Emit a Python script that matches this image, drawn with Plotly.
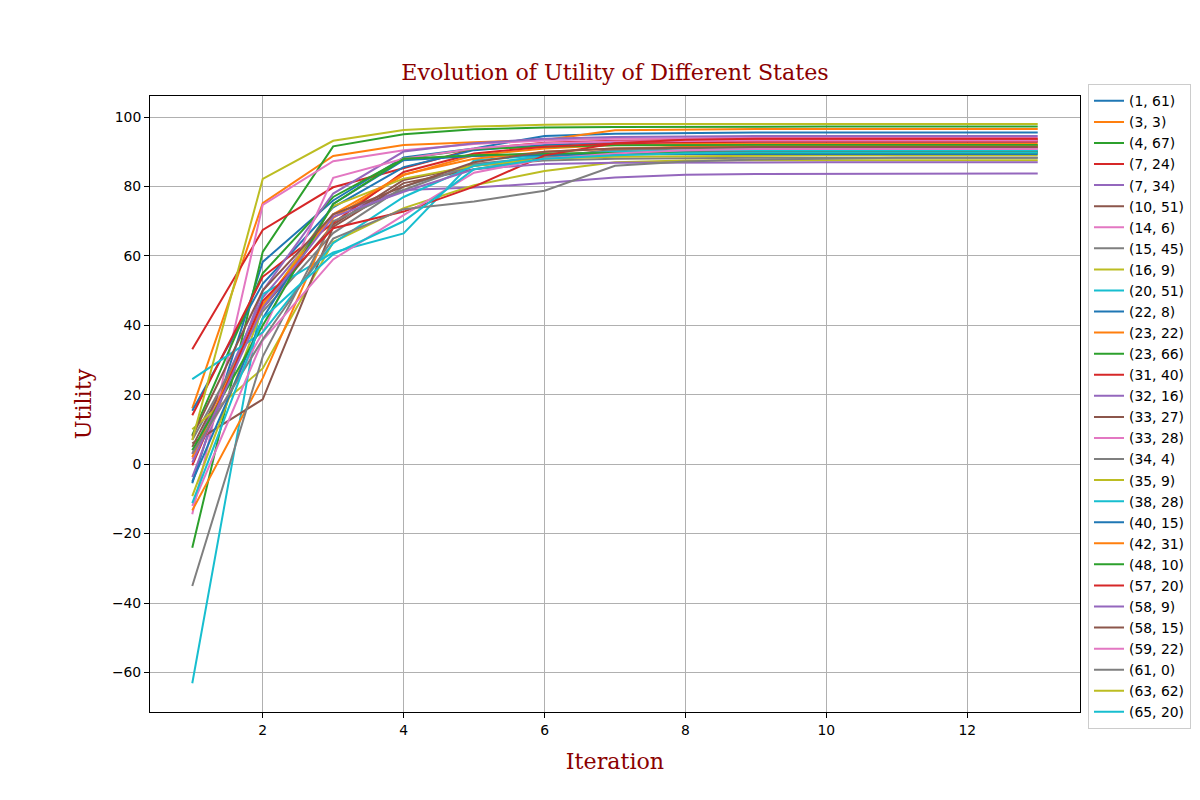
import plotly.graph_objects as go

iterations = list(range(1, 14))

states = [
    "(1, 61)", "(3, 3)", "(4, 67)", "(7, 24)", "(7, 34)", "(10, 51)", "(14, 6)",
    "(15, 45)", "(16, 9)", "(20, 51)", "(22, 8)", "(23, 22)", "(23, 66)", "(31, 40)",
    "(32, 16)", "(33, 27)", "(33, 28)", "(34, 4)", "(35, 9)", "(38, 28)", "(40, 15)",
    "(42, 31)", "(48, 10)", "(57, 20)", "(58, 9)", "(58, 15)", "(59, 22)", "(61, 0)",
    "(63, 62)", "(65, 20)",
]

u_1_61 = [-5.5, 58.3, 76.0, 88.4, 91.0, 94.6, 95.2, 95.5, 95.6, 95.6, 95.6, 95.6, 95.6]
u_3_3 = [16.1, 75.2, 88.8, 92.0, 92.8, 93.4, 96.2, 96.5, 96.6, 96.6, 96.6, 96.6, 96.6]
u_4_67 = [-24.1, 61.2, 91.6, 95.1, 96.5, 97.0, 97.2, 97.3, 97.3, 97.3, 97.3, 97.3, 97.3]
u_7_24 = [33.1, 67.5, 79.8, 85.2, 90.8, 92.6, 93.2, 93.4, 93.5, 93.5, 93.5, 93.5, 93.5]
u_7_34 = [3.0, 48.0, 72.0, 79.0, 79.7, 81.0, 82.6, 83.4, 83.6, 83.7, 83.8, 83.8, 83.8]
u_10_51 = [5.0, 45.0, 69.0, 81.9, 86.0, 88.5, 90.6, 91.4, 91.7, 91.7, 91.7, 91.7, 91.7]
u_14_6 = [-14.4, 74.7, 87.3, 90.5, 92.3, 93.3, 93.8, 94.0, 94.1, 94.1, 94.1, 94.1, 94.1]
u_15_45 = [7.0, 44.0, 66.6, 80.0, 86.0, 87.5, 88.0, 88.2, 88.3, 88.3, 88.3, 88.3, 88.3]
u_16_9 = [10.1, 27.6, 64.0, 73.8, 80.4, 84.5, 87.0, 87.5, 87.6, 87.6, 87.6, 87.6, 87.6]
u_20_51 = [-63.1, 49.0, 61.0, 66.5, 87.6, 89.0, 89.6, 89.9, 90.0, 90.0, 90.0, 90.0, 90.0]
u_22_8 = [15.4, 52.0, 74.0, 85.6, 90.5, 92.0, 92.8, 93.0, 93.0, 93.0, 93.0, 93.0, 93.0]
u_23_22 = [-13.3, 24.8, 71.0, 83.3, 89.0, 91.0, 92.0, 92.3, 92.3, 92.3, 92.3, 92.3, 92.3]
u_23_66 = [8.4, 55.0, 77.0, 88.0, 90.8, 91.5, 91.9, 92.0, 92.0, 92.0, 92.0, 92.0, 92.0]
u_31_40 = [14.1, 54.0, 69.5, 84.2, 89.5, 91.5, 92.4, 92.8, 92.9, 92.9, 92.9, 92.9, 92.9]
u_32_16 = [-3.7, 50.0, 78.0, 90.1, 92.5, 93.8, 94.3, 94.5, 94.6, 94.6, 94.6, 94.6, 94.6]
u_33_27 = [6.0, 18.7, 68.4, 81.0, 85.0, 88.0, 89.5, 90.0, 90.2, 90.2, 90.2, 90.2, 90.2]
u_33_28 = [1.5, 38.0, 82.5, 88.0, 91.0, 92.5, 93.0, 93.2, 93.3, 93.3, 93.3, 93.3, 93.3]
u_34_4 = [-35.1, 31.0, 70.0, 79.0, 86.5, 88.5, 90.5, 91.0, 91.1, 91.1, 91.1, 91.1, 91.1]
u_35_9 = [-9.2, 45.0, 74.4, 82.3, 86.0, 88.0, 88.6, 88.8, 88.9, 89.0, 89.0, 89.0, 89.0]
u_38_28 = [24.5, 38.0, 63.7, 77.0, 86.0, 89.0, 90.0, 90.4, 90.5, 90.5, 90.5, 90.5, 90.5]
u_40_15 = [-5.0, 42.0, 75.0, 87.6, 88.8, 89.1, 89.3, 89.4, 89.4, 89.4, 89.4, 89.4, 89.4]
u_42_31 = [2.0, 46.0, 72.0, 83.5, 88.0, 90.0, 91.0, 91.4, 91.5, 91.5, 91.5, 91.5, 91.5]
u_48_10 = [4.0, 40.0, 75.0, 88.0, 89.0, 89.5, 89.7, 89.8, 89.8, 89.8, 89.8, 89.8, 89.8]
u_57_20 = [-0.3, 47.0, 68.0, 72.8, 80.0, 89.0, 92.5, 93.5, 93.8, 93.8, 93.8, 93.8, 93.8]
u_58_9 = [0.5, 45.0, 71.3, 78.5, 85.0, 86.5, 86.9, 87.0, 87.0, 87.0, 87.0, 87.0, 87.0]
u_58_15 = [8.0, 50.0, 72.0, 80.0, 87.0, 90.0, 91.0, 91.3, 91.4, 91.4, 91.4, 91.4, 91.4]
u_59_22 = [-12.0, 35.7, 59.0, 71.8, 84.0, 88.0, 89.5, 90.5, 90.8, 90.8, 90.8, 90.8, 90.8]
u_61_0 = [3.0, 36.0, 65.0, 73.5, 75.7, 78.8, 86.0, 87.2, 87.8, 88.1, 88.3, 88.3, 88.3]
u_63_62 = [7.0, 82.2, 93.2, 96.3, 97.3, 97.8, 98.0, 98.0, 98.0, 98.0, 98.0, 98.0, 98.0]
u_65_20 = [-11.2, 42.0, 60.5, 70.0, 85.0, 88.0, 89.0, 89.6, 89.8, 89.8, 89.8, 89.8, 89.8]

utilities = [
    u_1_61, u_3_3, u_4_67, u_7_24, u_7_34, u_10_51, u_14_6, u_15_45, u_16_9, u_20_51,
    u_22_8, u_23_22, u_23_66, u_31_40, u_32_16, u_33_27, u_33_28, u_34_4, u_35_9, u_38_28,
    u_40_15, u_42_31, u_48_10, u_57_20, u_58_9, u_58_15, u_59_22, u_61_0, u_63_62, u_65_20,
]

palette = ["#1f77b4", "#ff7f0e", "#2ca02c", "#d62728", "#9467bd",
           "#8c564b", "#e377c2", "#7f7f7f", "#bcbd22", "#17becf"]

fig = go.Figure()
for i, (name, vals) in enumerate(zip(states, utilities)):
    fig.add_trace(go.Scatter(
        x=iterations, y=vals, mode="lines", name=name,
        line=dict(color=palette[i % 10], width=2),
    ))

axis_common = dict(
    showgrid=True, gridcolor="#b0b0b0", gridwidth=1,
    showline=True, linecolor="black", linewidth=1, mirror=True,
    ticks="outside", ticklen=5, tickcolor="black",
    tickfont=dict(family="DejaVu Sans", size=13.9, color="black"),
    zeroline=False,
)

# the page puts the plot 8px in from the top-left corner
fig.update_layout(
    width=1200, height=800,
    paper_bgcolor="white", plot_bgcolor="white",
    margin=dict(l=142, r=128, t=88, b=96),
    title=dict(
        text="Evolution of Utility of Different States",
        font=dict(family="DejaVu Serif", size=22.2, color="darkred"),
        x=(142 + 1072) / 2 / 1200, xanchor="center",
        yref="container", y=1 - 64 / 800, yanchor="middle",
    ),
    xaxis=dict(
        range=[0.4, 13.6], tickvals=[2, 4, 6, 8, 10, 12],
        title=dict(text="Iteration", font=dict(family="DejaVu Serif", size=22.2, color="darkred"), standoff=16),
        **axis_common,
    ),
    yaxis=dict(
        range=[-71.4, 106.1], tickvals=[-60, -40, -20, 0, 20, 40, 60, 80, 100],
        title=dict(text="Utility", font=dict(family="DejaVu Serif", size=22.2, color="darkred"), standoff=14),
        **axis_common,
    ),
    legend=dict(
        x=1.0086, xanchor="left", y=1.019, yanchor="top",
        font=dict(family="DejaVu Sans", size=13.9, color="black"),
        bordercolor="#cccccc", borderwidth=1, bgcolor="white",
        itemwidth=30, maxheight=760,
    ),
    showlegend=True,
)

fig.write_html("out.html")
